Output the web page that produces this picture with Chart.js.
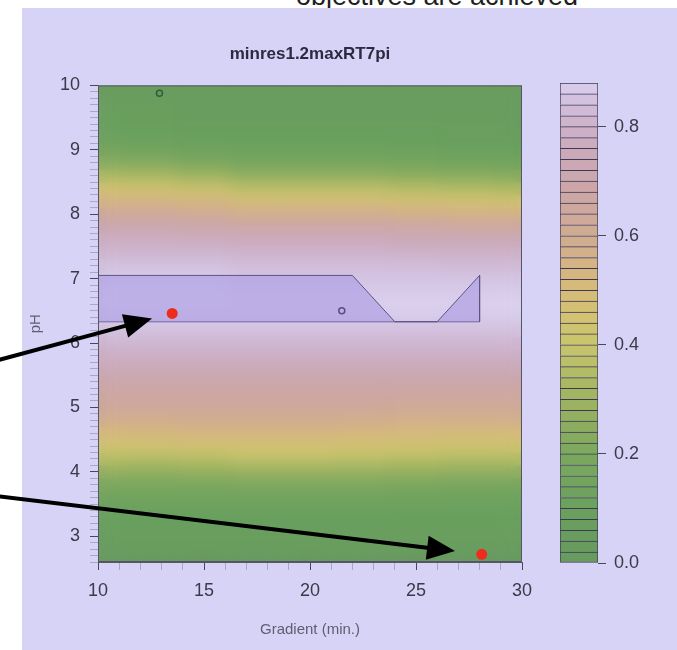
<!DOCTYPE html>
<html>
<head>
<meta charset="utf-8">
<script src="https://cdn.jsdelivr.net/npm/chart.js@4.4.1/dist/chart.umd.min.js"></script>
<style>
    html, body { margin: 0; padding: 0; background: #fff; overflow: hidden; }
    body { width: 677px; height: 650px; position: relative; font-family: "Liberation Sans", Arial, sans-serif; }
    #headline { position: absolute; left: 0; top: -17px; width: 874px; text-align: center; font-size: 27px; line-height: 27px; color: #1e1e1e; white-space: nowrap; }
    #panel { position: absolute; left: 22px; top: 8px; right: 0; bottom: 0; background: #d7d3f7; }
    #plot { position: absolute; left: 0; top: 0; }
    #scale { position: absolute; left: 540px; top: 0; }
</style>
</head>
<body>
<div id="headline">objectives are achieved</div>
<div id="panel"></div>
<canvas id="plot" width="677" height="650"></canvas>
<canvas id="scale" width="137" height="650"></canvas>
<script>
// Gradient (min.) columns and pH rows of the response surface
const gradientCols = [10, 12.5, 15, 17.5, 20, 22.5, 25, 27.5, 30];
const phRows = [10.0, 9.8, 9.6, 9.4, 9.2, 9.0, 8.8, 8.6, 8.4, 8.2, 8.0, 7.8, 7.6, 7.4, 7.2, 7.0,
    6.8, 6.6, 6.4, 6.2, 6.0, 5.8, 5.6, 5.4, 5.2, 5.0, 4.8, 4.6, 4.4, 4.2, 4.0, 3.8, 3.6, 3.4,
    3.2, 3.0, 2.8, 2.6];
// desirability, one row per pH value, one entry per gradient column
const desirability = [
    [0.05, 0.05, 0.05, 0.05, 0.05, 0.05, 0.05, 0.05, 0.05],
    [0.05, 0.05, 0.05, 0.05, 0.05, 0.05, 0.05, 0.05, 0.05],
    [0.06, 0.06, 0.05, 0.05, 0.05, 0.05, 0.05, 0.05, 0.05],
    [0.08, 0.08, 0.07, 0.06, 0.06, 0.06, 0.06, 0.05, 0.05],
    [0.11, 0.10, 0.09, 0.08, 0.08, 0.08, 0.08, 0.07, 0.07],
    [0.16, 0.15, 0.13, 0.12, 0.12, 0.12, 0.11, 0.10, 0.10],
    [0.23, 0.22, 0.20, 0.17, 0.17, 0.17, 0.16, 0.15, 0.15],
    [0.34, 0.33, 0.30, 0.26, 0.26, 0.26, 0.25, 0.24, 0.23],
    [0.45, 0.44, 0.42, 0.38, 0.38, 0.38, 0.36, 0.35, 0.34],
    [0.55, 0.55, 0.53, 0.49, 0.49, 0.49, 0.47, 0.46, 0.45],
    [0.64, 0.64, 0.62, 0.60, 0.60, 0.60, 0.58, 0.57, 0.56],
    [0.72, 0.72, 0.71, 0.69, 0.69, 0.69, 0.68, 0.67, 0.67],
    [0.78, 0.78, 0.77, 0.76, 0.76, 0.76, 0.75, 0.74, 0.74],
    [0.82, 0.82, 0.82, 0.81, 0.81, 0.81, 0.80, 0.80, 0.80],
    [0.85, 0.85, 0.85, 0.84, 0.84, 0.84, 0.84, 0.83, 0.83],
    [0.87, 0.87, 0.87, 0.86, 0.86, 0.86, 0.86, 0.86, 0.86],
    [0.88, 0.88, 0.88, 0.87, 0.87, 0.87, 0.87, 0.87, 0.87],
    [0.88, 0.88, 0.88, 0.88, 0.88, 0.88, 0.88, 0.88, 0.88],
    [0.87, 0.87, 0.87, 0.87, 0.87, 0.87, 0.87, 0.87, 0.87],
    [0.85, 0.85, 0.85, 0.85, 0.85, 0.85, 0.85, 0.85, 0.85],
    [0.82, 0.82, 0.82, 0.82, 0.82, 0.82, 0.82, 0.82, 0.82],
    [0.78, 0.78, 0.78, 0.78, 0.78, 0.78, 0.78, 0.78, 0.78],
    [0.74, 0.74, 0.74, 0.74, 0.74, 0.74, 0.74, 0.74, 0.74],
    [0.70, 0.70, 0.70, 0.70, 0.70, 0.70, 0.70, 0.70, 0.70],
    [0.66, 0.66, 0.66, 0.66, 0.66, 0.66, 0.65, 0.65, 0.65],
    [0.64, 0.64, 0.64, 0.64, 0.64, 0.64, 0.63, 0.63, 0.63],
    [0.58, 0.58, 0.59, 0.59, 0.59, 0.58, 0.57, 0.57, 0.57],
    [0.51, 0.52, 0.53, 0.53, 0.53, 0.52, 0.51, 0.50, 0.50],
    [0.44, 0.44, 0.45, 0.46, 0.46, 0.45, 0.44, 0.43, 0.43],
    [0.36, 0.35, 0.36, 0.38, 0.38, 0.37, 0.36, 0.35, 0.35],
    [0.27, 0.26, 0.27, 0.28, 0.28, 0.28, 0.27, 0.26, 0.26],
    [0.19, 0.19, 0.19, 0.20, 0.20, 0.20, 0.19, 0.18, 0.18],
    [0.14, 0.14, 0.14, 0.14, 0.14, 0.14, 0.13, 0.13, 0.13],
    [0.10, 0.10, 0.10, 0.10, 0.10, 0.10, 0.10, 0.10, 0.10],
    [0.08, 0.08, 0.08, 0.08, 0.08, 0.08, 0.08, 0.08, 0.08],
    [0.06, 0.06, 0.06, 0.06, 0.06, 0.06, 0.06, 0.06, 0.06],
    [0.05, 0.05, 0.05, 0.05, 0.05, 0.05, 0.05, 0.05, 0.05],
    [0.05, 0.05, 0.05, 0.05, 0.05, 0.05, 0.05, 0.05, 0.05],
];
const rowHalf = 0.1;

// contour levels of the colour key
const levels = [0.00, 0.02, 0.04, 0.06, 0.08, 0.10, 0.12, 0.14, 0.16, 0.18, 0.20, 0.22, 0.24,
    0.26, 0.28, 0.30, 0.32, 0.34, 0.36, 0.38, 0.40, 0.42, 0.44, 0.46, 0.48, 0.50, 0.52, 0.54,
    0.56, 0.58, 0.60, 0.62, 0.64, 0.66, 0.68, 0.70, 0.72, 0.74, 0.76, 0.78, 0.80, 0.82, 0.84,
    0.86, 0.88];

// sweet spot (both objectives met): upper outline, filled down to the base line
const regionX = [10, 22, 24, 26, 28, 28];
const regionY = [7.05, 7.05, 6.33, 6.33, 7.05, 6.33];
const regionBase = 6.33;

// predicted optima (red) and experiment points (open)
const optimaX = [13.5, 28.1];
const optimaY = [6.46, 2.72];
const runsX = [12.9, 21.5];
const runsY = [9.88, 6.5];

// pointer arrows, tail -> tip
const arrowFromX = [4.8, 4.8];
const arrowFromY = [5.69, 3.64];
const arrowToX = [12.55, 26.84];
const arrowToY = [6.38, 2.77];

// colour ramp green -> yellow -> pink -> lavender
const rampStops = [
    [0.00, [103, 154, 96]],
    [0.10, [106, 160, 94]],
    [0.20, [124, 168, 94]],
    [0.28, [150, 176, 96]],
    [0.34, [174, 186, 99]],
    [0.40, [200, 196, 108]],
    [0.46, [212, 194, 114]],
    [0.52, [213, 184, 126]],
    [0.58, [210, 174, 140]],
    [0.64, [206, 168, 156]],
    [0.70, [203, 166, 172]],
    [0.76, [203, 170, 188]],
    [0.82, [206, 182, 208]],
    [0.86, [212, 196, 228]],
    [0.88, [218, 210, 238]],
];

function colorAt(v) {
    let i = 0;
    while (i < rampStops.length - 2 && v > rampStops[i + 1][0]) i++;
    const [v0, c0] = rampStops[i];
    const [v1, c1] = rampStops[i + 1];
    const t = Math.max(0, Math.min(1, (v - v0) / (v1 - v0)));
    const c = c0.map((a, k) => Math.round(a + (c1[k] - a) * t));
    return `rgb(${c[0]}, ${c[1]}, ${c[2]})`;
}

Chart.defaults.font.family = '"Liberation Sans", Arial, sans-serif';

const tickText = "#3a3a48";
const majorTick = "#474758";
const minorTick = "#aaa6c6";

// one floating-bar row per pH value, all rows share one slot so they line up
const heatRows = phRows.map((ph, r) => ({
    type: "bar",
    data: gradientCols.map((g) => ({ x: g, y: [ph - rowHalf, ph + rowHalf] })),
    backgroundColor: desirability[r].map(colorAt),
    borderWidth: 0,
    stack: "surface",
    barThickness: "flex",
    barPercentage: 1,
    categoryPercentage: 1,
    clip: 0,
    order: 3,
}));

// blur the surface so the rows blend into a smooth field
const softenPlugin = {
    id: "soften",
    afterDatasetDraw(chart, args) {
        if (args.index !== 0) return;
        const { ctx, chartArea: a, canvas } = chart;
        ctx.save();
        ctx.beginPath();
        ctx.rect(a.left, a.top, a.right - a.left, a.bottom - a.top);
        ctx.clip();
        ctx.filter = "blur(8px)";
        ctx.drawImage(canvas, 0, 0);
        ctx.restore();
    },
};

const framePlugin = {
    id: "frame",
    afterDatasetsDraw(chart) {
        const { ctx, chartArea: a } = chart;
        ctx.save();
        ctx.strokeStyle = "#555566";
        ctx.lineWidth = 1;
        ctx.strokeRect(a.left + 0.5, a.top + 0.5, a.right - a.left - 1, a.bottom - a.top - 1);
        ctx.restore();
    },
};

const arrowPlugin = {
    id: "arrows",
    afterDraw(chart) {
        const { ctx } = chart;
        const xs = chart.scales.x;
        const ys = chart.scales.y;
        ctx.save();
        ctx.strokeStyle = "#000";
        ctx.fillStyle = "#000";
        ctx.lineWidth = 4;
        arrowFromX.forEach((fx, i) => {
            const x0 = xs.getPixelForValue(fx);
            const y0 = ys.getPixelForValue(arrowFromY[i]);
            const x1 = xs.getPixelForValue(arrowToX[i]);
            const y1 = ys.getPixelForValue(arrowToY[i]);
            const ang = Math.atan2(y1 - y0, x1 - x0);
            const head = 28;
            const half = 12;
            const bx = x1 - head * Math.cos(ang);
            const by = y1 - head * Math.sin(ang);
            ctx.beginPath();
            ctx.moveTo(x0, y0);
            ctx.lineTo(bx + 2 * Math.cos(ang), by + 2 * Math.sin(ang));
            ctx.stroke();
            ctx.beginPath();
            ctx.moveTo(x1, y1);
            ctx.lineTo(bx + half * Math.sin(ang), by - half * Math.cos(ang));
            ctx.lineTo(bx - half * Math.sin(ang), by + half * Math.cos(ang));
            ctx.closePath();
            ctx.fill();
        });
        ctx.restore();
    },
};

new Chart(document.getElementById("plot"), {
    type: "bar",
    data: {
        datasets: [
            ...heatRows,
            {
                type: "line",
                data: regionX.map((x, i) => ({ x: x, y: regionY[i] })),
                borderColor: "#5b5384",
                borderWidth: 1,
                backgroundColor: "rgba(165, 150, 225, 0.55)",
                fill: { value: regionBase },
                pointRadius: 0,
                tension: 0,
                order: 2,
            },
            {
                type: "line",
                data: [
                    { x: regionX[0], y: regionBase },
                    { x: regionX[regionX.length - 1], y: regionBase },
                ],
                borderColor: "#5b5384",
                borderWidth: 1,
                fill: false,
                pointRadius: 0,
                order: 2,
            },
            {
                type: "line",
                data: runsX.map((x, i) => ({ x: x, y: runsY[i] })),
                showLine: false,
                pointRadius: 3,
                pointBorderWidth: 1.5,
                pointBackgroundColor: "rgba(0,0,0,0)",
                pointBorderColor: ["#2d5e3a", "#57507a"],
                order: 1,
            },
            {
                type: "line",
                data: optimaX.map((x, i) => ({ x: x, y: optimaY[i] })),
                showLine: false,
                pointRadius: 5.5,
                pointBorderWidth: 0,
                pointBackgroundColor: "#ec2d1c",
                pointBorderColor: "#ec2d1c",
                order: 0,
            },
        ],
    },
    options: {
        responsive: false,
        animation: false,
        events: [],
        layout: { padding: { left: 25, right: 155, top: 0, bottom: 0 } },
        plugins: {
            legend: { display: false },
            tooltip: { enabled: false },
            title: {
                display: true,
                text: "minres1.2maxRT7pi",
                fullSize: false,
                color: "#2a2a40",
                font: { size: 17, weight: "bold" },
                padding: { top: 44, bottom: 21 },
            },
        },
        scales: {
            x: {
                type: "linear",
                min: 10,
                max: 30,
                offset: false,
                ticks: {
                    stepSize: 1,
                    autoSkip: false,
                    maxRotation: 0,
                    padding: 10,
                    color: tickText,
                    font: { size: 18 },
                    callback: (v) => (v % 5 === 0 ? v : ""),
                },
                grid: {
                    drawOnChartArea: false,
                    offset: false,
                    tickLength: 8,
                    tickColor: (c) => (c.tick && c.tick.value % 5 === 0 ? majorTick : minorTick),
                },
                border: { display: true, color: "#555566" },
                title: {
                    display: true,
                    text: "Gradient (min.)",
                    color: "#5e5e70",
                    font: { size: 15 },
                    padding: { top: 0, bottom: 11 },
                },
                afterFit: (s) => {
                    s.height = 88;
                },
            },
            y: {
                type: "linear",
                min: 2.6,
                max: 10,
                stacked: false,
                ticks: {
                    stepSize: 0.1,
                    autoSkip: false,
                    padding: 10,
                    color: tickText,
                    font: { size: 18 },
                    callback: (v) => (Math.abs(v - Math.round(v)) < 1e-6 ? Math.round(v) : ""),
                },
                grid: {
                    drawOnChartArea: false,
                    tickLength: 8,
                    tickColor: (c) =>
                        c.tick && Math.abs(c.tick.value - Math.round(c.tick.value)) < 1e-6 ? majorTick : minorTick,
                },
                border: { display: true, color: "#555566" },
                title: {
                    display: true,
                    text: "pH",
                    color: "#5e5e70",
                    font: { size: 15 },
                    padding: { top: 2, bottom: 0 },
                },
                afterFit: (s) => {
                    s.width = 73;
                },
            },
        },
    },
    plugins: [softenPlugin, framePlugin, arrowPlugin],
});

// colour key: one band per contour level
const bands = levels.slice(0, -1).map((lo, i) => ({
    data: [[lo, levels[i + 1]]],
    backgroundColor: colorAt((lo + levels[i + 1]) / 2),
    borderColor: "#3e3a56",
    borderWidth: { top: 1, left: 1, right: 1, bottom: i === 0 ? 1 : 0 },
    borderSkipped: false,
    grouped: false,
    barPercentage: 1,
    categoryPercentage: 1,
}));

new Chart(document.getElementById("scale"), {
    type: "bar",
    data: { labels: [""], datasets: bands },
    options: {
        responsive: false,
        animation: false,
        events: [],
        layout: { padding: { left: 20, right: 0, top: 83, bottom: 87 } },
        plugins: { legend: { display: false }, tooltip: { enabled: false } },
        scales: {
            x: { display: false },
            y: {
                position: "right",
                min: 0,
                max: 0.88,
                afterBuildTicks: (s) => {
                    s.ticks = s.ticks.filter((t) => t.value < 0.85);
                },
                ticks: {
                    stepSize: 0.2,
                    padding: 8,
                    color: tickText,
                    font: { size: 18 },
                    callback: (v) => v.toFixed(1),
                },
                grid: { drawOnChartArea: false, tickLength: 8, tickColor: majorTick },
                border: { display: false },
                afterFit: (s) => {
                    s.width = 79;
                },
            },
        },
    },
});
</script>
</body>
</html>
